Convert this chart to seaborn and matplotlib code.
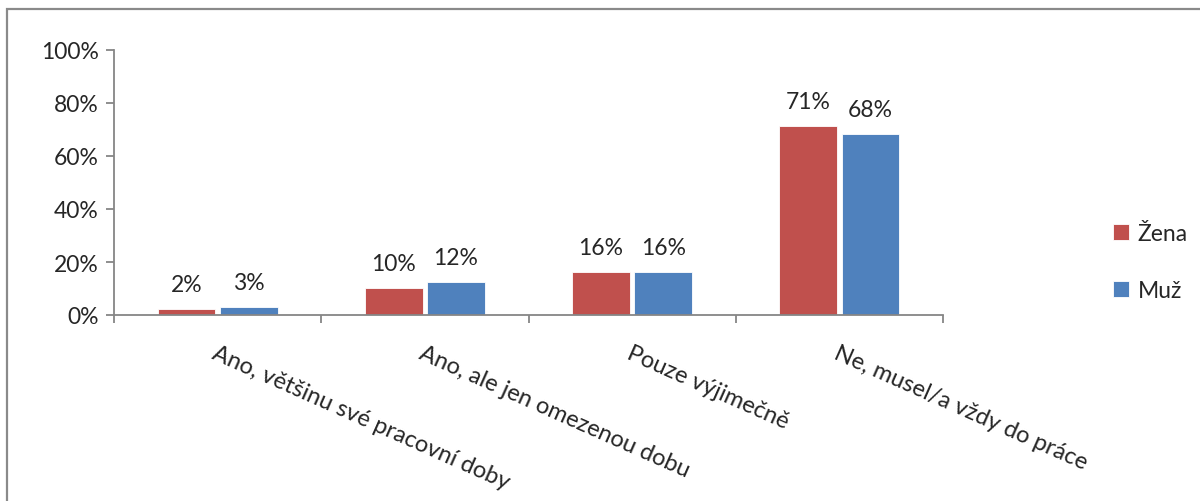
import numpy as np
import pandas as pd
import seaborn as sns
import matplotlib.pyplot as plt
import matplotlib.patches as patches

# data
categories = ["Ano, většinu své pracovní doby", "Ano, ale jen omezenou dobu",
              "Pouze výjimečně", "Ne, musel/a vždy do práce"]
zena = [0.022, 0.102, 0.161, 0.713]
muz = [0.029, 0.124, 0.161, 0.684]
groups = ["Žena", "Muž"]
colors = ["#C0504D", "#4F81BD"]
yticks = [0, 0.2, 0.4, 0.6, 0.8, 1.0]

df = pd.DataFrame({
    "cat": categories * 2,
    "val": zena + muz,
    "grp": [groups[0]] * len(categories) + [groups[1]] * len(categories),
})

sns.set_style("white")
plt.rcParams['font.family'] = ['Lato', 'DejaVu Sans']
fs = 16.5

fig = plt.figure(figsize=(12, 5.02), dpi=100)
ax = fig.add_axes([114 / 1200, 1 - 316 / 502, (943 - 114) / 1200, (316 - 51) / 502])

sns.barplot(data=df, x="cat", y="val", hue="grp", palette=colors, width=0.6,
            gap=0.07, saturation=1, ax=ax, edgecolor="white", linewidth=0.6, legend=True)

for cont in ax.containers:
    ax.bar_label(cont, labels=[f"{v * 100:.0f}%" for v in cont.datavalues],
                 padding=10, fontsize=fs)

ax.set_ylim(0, 1)
ax.set_xlim(-0.5, len(categories) - 0.5)
ax.set_yticks(yticks)
ax.set_yticklabels([f"{int(t * 100)}%" for t in yticks], fontsize=fs)
ax.set_xlabel("")
ax.set_ylabel("")

# category boundary ticks as in the original
ax.set_xticks(np.arange(-0.5, len(categories), 1.0), minor=True)
ax.tick_params(axis="x", which="minor", length=6, width=1.3, color="#868686", direction="out", bottom=True)
ax.tick_params(axis="x", which="major", length=0, pad=19)
ax.tick_params(axis="y", length=6, width=1.3, color="#868686", direction="out", left=True, pad=5)
ax.set_xticks(range(len(categories)))
ax.set_xticklabels(categories, rotation=-24, ha="left", va="top",
                   rotation_mode="anchor", fontsize=17)

sns.despine(ax=ax)
for s in ["left", "bottom"]:
    ax.spines[s].set_color("#868686")
    ax.spines[s].set_linewidth(1.3)

handles, labels = ax.get_legend_handles_labels()
ax.get_legend().remove()
fig.legend(handles, labels, loc="center left", bbox_to_anchor=(1092 / 1200, 1 - 263 / 502),
           frameon=False, fontsize=fs, handlelength=0.7, handleheight=0.7,
           handletextpad=0.4, labelspacing=1.6)

# chart frame
fig.patches.append(patches.Rectangle((7 / 1200, -0.1), 1.2, 1.1 - 10 / 502, transform=fig.transFigure,
                                     fill=False, edgecolor="#8a8a8a", linewidth=1.6))

fig.savefig("out.png", dpi=100)
